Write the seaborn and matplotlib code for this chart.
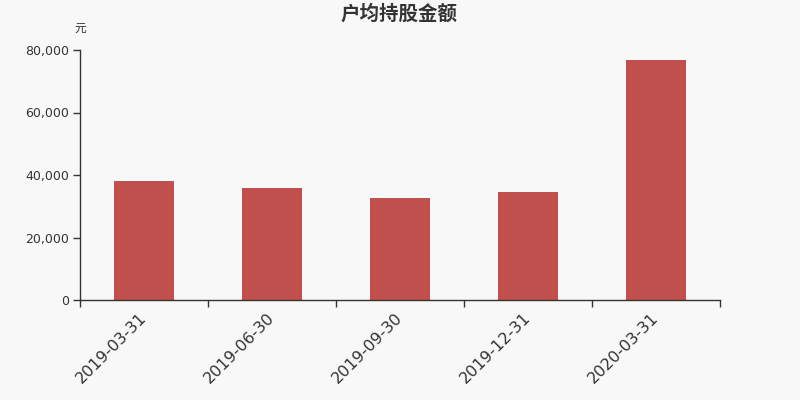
import matplotlib
matplotlib.use("Agg")
import matplotlib.pyplot as plt
import seaborn as sns
import pandas as pd
from matplotlib.ticker import FuncFormatter, FixedLocator

categories = ["2019-03-31", "2019-06-30", "2019-09-30", "2019-12-31", "2020-03-31"]
values = [38100, 35850, 32650, 34450, 76700]
title_text = "户均持股金额"
unit_text = "元"

sns.set_theme(style="white")
plt.rcParams['font.family'] = ['DejaVu Sans', 'Noto Sans CJK SC']

bg = "#f8f8f8"
txt = "#333333"
bar_color = "#c0504d"

fig = plt.figure(figsize=(8, 4), dpi=100, facecolor=bg)
ax = fig.add_axes([0.1, 0.25, 0.8, 0.625])
ax.set_facecolor(bg)

df = pd.DataFrame({"date": categories, "value": values})
sns.barplot(data=df, x="date", y="value", color=bar_color, saturation=1,
            width=0.47, ax=ax, edgecolor="none", linewidth=0)

ax.set_xlim(-0.5, len(categories) - 0.5)
ax.set_ylim(0, 80000)
ax.set_yticks([0, 20000, 40000, 60000, 80000])
ax.yaxis.set_major_formatter(FuncFormatter(lambda v, p: f"{int(v):,}"))

for s in ["top", "right"]:
    ax.spines[s].set_visible(False)
for s in ["left", "bottom"]:
    ax.spines[s].set_color(txt)
    ax.spines[s].set_linewidth(1)

ax.tick_params(axis="y", which="major", length=5, width=1, color=txt,
               labelsize=9, labelcolor=txt, pad=3, left=True)
# labels at category centers without tick marks
ax.set_xticks(range(len(categories)))
ax.set_xticklabels(categories, rotation=45, ha="right", va="center",
                   rotation_mode="anchor")
ax.tick_params(axis="x", which="major", length=0, labelsize=11.5,
               labelcolor=txt, pad=11)
# boundary tick marks
ax.xaxis.set_minor_locator(FixedLocator([i - 0.5 for i in range(len(categories) + 1)]))
ax.tick_params(axis="x", which="minor", length=5, width=1, color=txt, bottom=True)

ax.set_xlabel("")
ax.set_ylabel("")

fig.text(0.499, 0.965, title_text, ha="center", va="center", fontsize=14,
         fontweight="bold", color=txt, family=["Noto Sans CJK SC", "DejaVu Sans"])
fig.text(0.1, 0.93, unit_text, ha="center", va="center", fontsize=8.5,
         color=txt, family=["Noto Sans CJK SC", "DejaVu Sans"])

fig.savefig("out.png", dpi=100, facecolor=bg)
